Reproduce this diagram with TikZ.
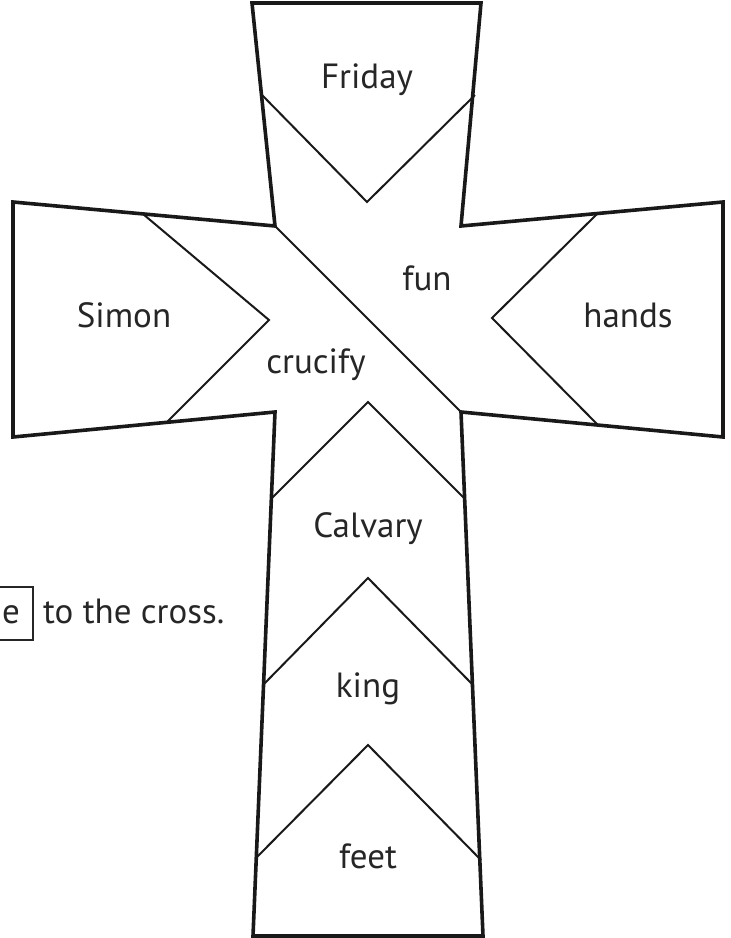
\documentclass[tikz,border=0pt]{standalone}
\usepackage{fontspec}
\setmainfont{PT Sans}
\usepackage{tikz}

\begin{document}
\begin{tikzpicture}[x=1pt, y=-1pt,
  outline/.style={line width=3.6pt, line join=miter, draw=black!90},
  fold/.style={line width=2pt, draw=black!90},
  word/.style={anchor=base, inner sep=0pt, text=black!85,
               font=\fontsize{35}{40}\selectfont},
]
  \clip (0,0) rectangle (731,938);

  % corners of the cross
  \coordinate (tl) at (252,3);   \coordinate (tr) at (481,3);
  \coordinate (ntr) at (461,226); \coordinate (rt) at (723,202);
  \coordinate (rb) at (723,437); \coordinate (nbr) at (461,412);
  \coordinate (br) at (483,936); \coordinate (bl) at (253,936);
  \coordinate (nbl) at (275,412); \coordinate (lb) at (13,437);
  \coordinate (lt) at (13,202);  \coordinate (ntl) at (275,226);

  \draw[outline] (tl) -- (tr) -- (ntr) -- (rt) -- (rb) -- (nbr) -- (br)
    -- (bl) -- (nbl) -- (lb) -- (lt) -- (ntl) -- cycle;

  % folds
  \draw[fold] (262,95) -- (367,202) -- (475,95);
  \draw[fold] (143,214) -- (269,320) -- (167,422);
  \draw[fold] (598,213) -- (492,318) -- (598,425);
  \draw[fold] (ntl) -- (nbr);
  \draw[fold] (272,498) -- (368,402) -- (464,498);
  \draw[fold] (263,685) -- (368,578) -- (473,685);
  \draw[fold] (256,858) -- (368,745) -- (481,860);

  % words
  \node[word] (friday) at (367,88) {Friday};
  \node[word] (fun) at (427,290) {fun};
  \node[word] (simon) at (124,327) {Simon};
  \node[word] (hands) at (628,327) {hands};
  \node[word] (crucify) at (316,373) {crucify};
  \node[word] (calvary) at (368,537) {Calvary};
  \node[word] (king) at (368,697) {king};
  \node[word] (feet) at (368,868) {feet};

  % sentence at the side
  \draw[line width=1.5pt, draw=black!85] (-10,587) rectangle (33,640);
  \node[word] (letter) at (11,623) {e};
  \node[word, anchor=base west] (sentence) at (43,623) {to the cross.};
\end{tikzpicture}
\end{document}
